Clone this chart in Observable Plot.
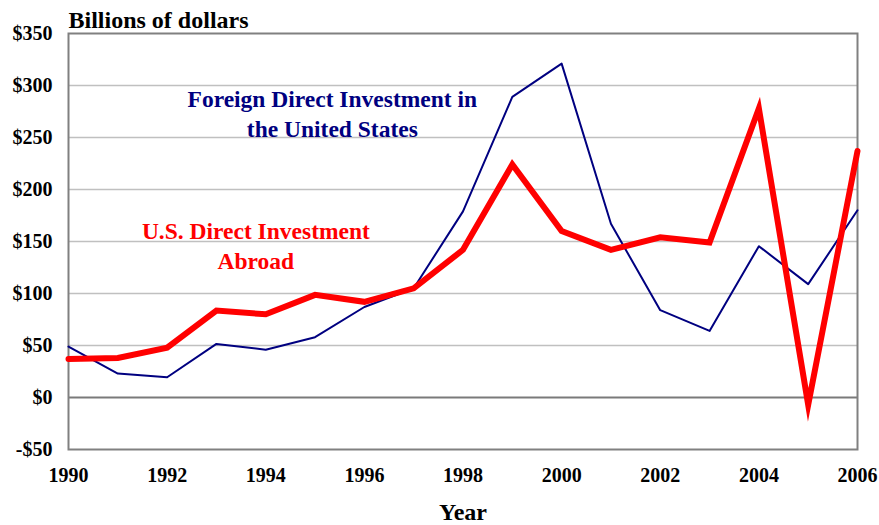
<!DOCTYPE html>
<html><head><meta charset="utf-8">
<script src="https://cdn.jsdelivr.net/npm/d3@7"></script>
<script src="https://cdn.jsdelivr.net/npm/@observablehq/plot@0.6"></script>
<style>body{margin:0;background:#fff}</style>
</head><body><div id="chart"></div>
<script>
const years = [1990,1991,1992,1993,1994,1995,1996,1997,1998,1999,2000,2001,2002,2003,2004,2005,2006];
const fdiInUS = [49,23,19.5,51.5,46,58,87,105,179,289,321,167,84,64,145.5,109,180];
const usAbroad = [37,38,48,83.6,80,98.7,92,105,142,224,160,142,154,149,278,-7,237];
const yTicks = [-50,0,50,100,150,200,250,300,350];
const xTicks = [1990,1992,1994,1996,1998,2000,2002,2004,2006];
const fdiLabel = "Foreign Direct Investment in\nthe United States";
const abroadLabel = "U.S. Direct Investment\nAbroad";

const fdiRows = years.map((year, i) => ({year, value: fdiInUS[i]}));
const abroadRows = years.map((year, i) => ({year, value: usAbroad[i]}));
const fmtY = d => d < 0 ? "-$" + (-d) : "$" + d;
const font = "'Liberation Serif', 'Times New Roman', serif";

const chart = Plot.plot({
  width: 879,
  height: 525,
  marginLeft: 68,
  marginRight: 22,
  marginTop: 33,
  marginBottom: 76,
  style: {fontFamily: font, fontWeight: "bold", color: "#000", background: "#fff"},
  x: {domain: [1990, 2006]},
  y: {domain: [-50, 350]},
  marks: [
    Plot.ruleY(yTicks.filter(d => d !== 0 && d !== -50 && d !== 350), {stroke: "#c0c0c0", strokeWidth: 1.3}),
    Plot.ruleY([0], {stroke: "#7a7a7a", strokeWidth: 2}),
    Plot.frame({stroke: "#808080", strokeWidth: 2}),
    Plot.axisX({ticks: xTicks, tickFormat: d => String(d), tickSize: 0, tickPadding: 18, fontSize: 20, fontWeight: "bold", fill: "#000", label: null}),
    Plot.axisY({ticks: yTicks, tickFormat: fmtY, tickSize: 0, tickPadding: 16, fontSize: 20, fontWeight: "bold", fill: "#000", label: null}),
    Plot.line(fdiRows, {x: "year", y: "value", stroke: "#000080", strokeWidth: 2}),
    Plot.line(abroadRows, {x: "year", y: "value", stroke: "#ff0000", strokeWidth: 6, strokeLinejoin: "miter", strokeMiterlimit: 10}),
    Plot.text([fdiLabel], {x: () => 1995.35, y: () => 274, text: d => d, fill: "#000080", fontSize: 23.5, fontWeight: "bold", lineHeight: 1.28}),
    Plot.text([abroadLabel], {x: () => 1993.8, y: () => 147.6, text: d => d, fill: "#ff0000", fontSize: 23.5, fontWeight: "bold", lineHeight: 1.28}),
    Plot.text(["Billions of dollars"], {frameAnchor: "top-left", textAnchor: "start", lineAnchor: "bottom", dy: -6, fontSize: 24, fontWeight: "bold", fill: "#000"}),
    Plot.text(["Year"], {frameAnchor: "bottom", lineAnchor: "bottom", dy: 70, fontSize: 24, fontWeight: "bold", fill: "#000"})
  ]
});
document.getElementById("chart").appendChild(chart);
</script>
</body></html>
